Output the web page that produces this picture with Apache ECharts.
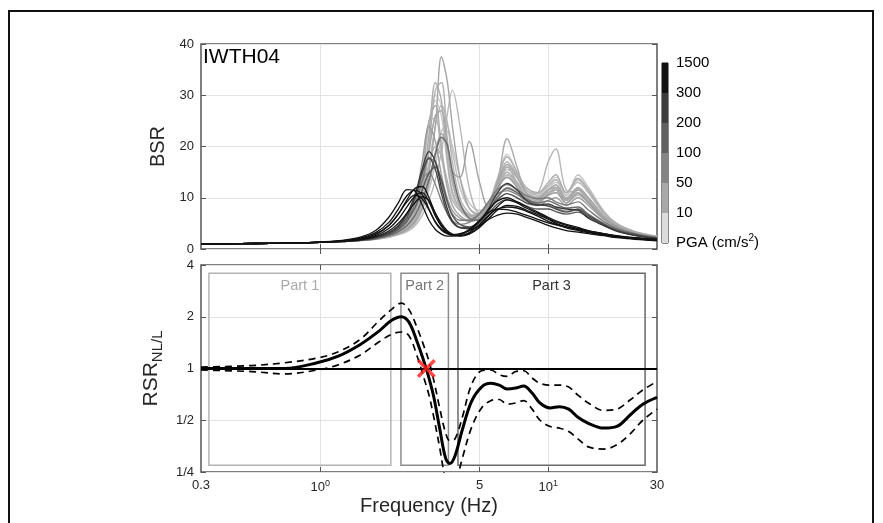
<!DOCTYPE html>
<html><head><meta charset="utf-8">
<script src="https://cdn.jsdelivr.net/npm/echarts@6/dist/echarts.min.js"></script>
<style>html,body{margin:0;padding:0;background:#fff}#c{width:883px;height:523px}</style>
</head><body><div id="c"></div>
<script>
// ---------- DATA ----------
// frequency grid (Hz) shared by all BSR curves (top panel)
const FREQ = [0.3,0.45,0.6,0.8,1.0,1.25,1.5,1.75,2.0,2.2,2.4,2.6,2.8,3.0,3.2,3.4,3.6,3.8,4.1,4.5,5.0,5.5,6.0,6.6,7.3,8.0,9.0,10.0,10.8,12.0,13.5,15.0,17.5,20,24,30];

// light grey BSR curves (PGA < 50)
const BSR_L1  = [1.0,1.05,1.1,1.2,1.3,1.45,1.7,2.0,2.5,3.0,3.8,5.5,9.0,15.0,24.0,37.5,33.0,24.0,14.0,8.0,6.8,9.0,13.0,16.5,14.0,11.0,10.0,11.5,12.0,9.5,11.5,10.0,6.5,4.5,3.2,2.3];
const BSR_L2  = [1.0,1.05,1.1,1.2,1.3,1.45,1.7,2.0,2.6,3.2,4.2,6.5,11.0,20.0,31.0,32.5,22.0,13.0,8.5,6.5,6.2,8.5,12.5,15.0,13.0,10.5,9.8,11.0,11.5,9.8,11.8,9.5,6.0,4.2,3.0,2.2];
const BSR_L3  = [1.0,1.05,1.1,1.2,1.3,1.45,1.65,1.9,2.3,2.8,3.4,4.5,6.5,9.5,13.5,19.0,26.0,31.0,24.0,12.0,7.0,8.0,11.5,14.5,13.0,10.2,9.5,10.5,11.0,9.0,10.5,9.0,6.0,4.3,3.0,2.2];
const BSR_L4  = [1.0,1.05,1.1,1.2,1.3,1.45,1.7,2.0,2.5,3.0,3.8,5.2,8.0,13.0,19.0,22.5,20.0,15.0,14.0,21.0,13.0,8.0,10.0,12.0,11.0,9.0,8.5,9.5,10.0,8.5,10.0,8.5,5.8,4.2,3.0,2.2];
const BSR_L5  = [1.0,1.05,1.1,1.2,1.3,1.45,1.7,2.0,2.6,3.3,4.5,7.0,12.0,19.0,26.0,27.0,21.0,14.0,9.0,6.5,6.0,8.0,13.0,21.5,16.0,11.0,10.0,11.5,12.5,10.0,12.0,10.0,6.5,4.5,3.2,2.3];
const BSR_L6  = [1.0,1.05,1.1,1.2,1.3,1.45,1.7,2.0,2.5,3.1,4.0,6.0,10.0,16.5,24.0,28.0,25.0,17.0,10.0,7.0,6.0,7.5,11.0,15.0,13.0,10.5,11.0,17.0,19.5,11.5,11.0,9.5,6.2,4.3,3.0,2.2];
const BSR_L7  = [1.0,1.05,1.1,1.2,1.3,1.45,1.7,2.0,2.6,3.4,4.8,8.0,15.0,25.0,25.5,18.0,12.0,8.5,6.5,5.5,5.8,8.0,12.0,14.5,12.5,10.0,9.0,10.5,11.5,9.0,11.0,9.0,6.0,4.3,3.0,2.2];
const BSR_L8  = [1.0,1.05,1.1,1.2,1.3,1.45,1.7,2.0,2.5,3.1,4.2,6.8,12.5,22.0,29.0,26.0,17.0,10.5,7.5,6.0,6.2,8.5,13.0,17.0,14.0,11.0,10.2,12.0,13.5,10.5,13.5,11.0,7.0,4.8,3.3,2.4];
const BSR_L9  = [1.0,1.05,1.1,1.2,1.3,1.45,1.65,1.9,2.4,2.9,3.6,5.0,8.0,12.5,18.0,23.0,24.0,19.0,12.0,8.0,6.5,7.5,11.0,15.5,14.0,11.5,10.5,11.5,12.5,10.5,14.5,12.0,7.5,5.0,3.4,2.5];
const BSR_L10 = [1.0,1.05,1.1,1.2,1.3,1.45,1.7,2.0,2.6,3.3,4.6,7.5,14.0,24.0,30.0,28.0,19.0,11.5,8.0,6.2,6.4,9.0,14.0,18.5,15.0,11.5,10.5,12.5,14.0,11.0,13.0,11.0,7.0,4.8,3.3,2.4];
const BSR_L11 = [1.0,1.05,1.1,1.2,1.3,1.45,1.7,2.0,2.6,3.2,4.4,7.2,14.0,25.0,28.0,20.0,12.5,8.5,6.5,5.6,6.0,8.5,12.5,16.0,13.0,10.2,9.5,10.8,12.0,9.5,11.5,9.5,6.2,4.4,3.1,2.3];
const BSR_L12 = [1.0,1.05,1.1,1.2,1.3,1.45,1.7,2.1,2.8,3.6,5.2,9.0,17.0,24.0,21.0,14.5,10.0,7.5,6.0,5.4,6.0,8.5,12.0,14.0,12.0,9.8,9.2,10.5,11.0,9.0,10.8,9.0,6.0,4.3,3.0,2.2];
const BSR_L13 = [1.0,1.05,1.1,1.2,1.3,1.45,1.7,2.0,2.5,3.1,4.2,6.5,11.5,19.5,26.0,27.0,20.0,13.0,8.5,6.8,6.6,9.0,13.5,17.0,14.5,11.5,10.8,12.5,13.5,11.0,13.0,11.0,7.0,4.7,3.3,2.4];
const BSR_L14 = [1.0,1.05,1.1,1.2,1.3,1.45,1.7,2.0,2.6,3.3,4.5,7.0,11.0,16.5,20.0,18.0,13.5,9.5,7.5,6.5,6.8,8.8,12.0,14.0,12.5,10.5,10.0,11.0,11.5,9.5,11.0,9.5,6.3,4.4,3.1,2.3];
const BSR_L15 = [1.0,1.05,1.1,1.2,1.3,1.45,1.7,2.0,2.5,3.0,4.0,6.2,11.5,22.0,32.5,29.0,18.0,11.0,8.0,6.5,6.5,9.0,13.5,18.0,15.0,12.0,11.0,13.0,14.5,11.0,13.8,11.5,7.2,4.9,3.4,2.5];
const BSR_L16 = [1.0,1.05,1.1,1.2,1.3,1.45,1.65,1.9,2.3,2.8,3.5,4.8,7.5,11.5,16.5,21.0,23.0,20.0,14.0,9.0,7.5,8.5,12.0,16.0,14.5,12.0,11.0,12.0,13.0,11.0,13.5,11.5,7.2,4.9,3.4,2.5];
// medium grey BSR curves (PGA 50-200)
const BSR_M1 = [1.0,1.05,1.1,1.2,1.3,1.45,1.7,2.0,2.6,3.4,4.6,6.5,9.5,13.5,18.5,21.8,20.5,15.0,9.0,6.0,5.6,7.5,10.2,11.8,11.0,9.8,9.0,9.4,8.8,8.0,8.2,6.8,5.0,3.8,2.9,2.2];
const BSR_M2 = [1.0,1.05,1.1,1.2,1.3,1.5,1.8,2.3,3.2,4.6,6.8,10.0,13.5,14.8,12.6,9.4,7.0,5.5,4.8,5.2,6.8,9.0,10.8,11.4,10.6,9.6,8.8,8.6,8.0,7.4,7.6,6.2,4.7,3.6,2.8,2.1];
const BSR_M3 = [1.0,1.05,1.1,1.2,1.3,1.45,1.7,2.1,2.9,4.0,5.8,8.8,13.2,17.6,17.0,13.0,9.2,6.8,5.6,5.6,7.0,9.4,11.6,12.6,11.6,10.4,9.8,10.0,9.2,8.6,9.2,7.6,5.4,4.0,3.0,2.2];
// dark grey BSR curves (PGA 200-300)
const BSR_D1 = [1.0,1.05,1.1,1.2,1.3,1.5,1.8,2.3,3.2,4.5,6.8,10.5,15.5,19.0,17.0,12.0,8.0,5.5,4.2,4.0,5.2,8.0,11.0,12.8,11.5,9.5,8.6,8.8,8.2,7.8,7.6,6.0,4.6,3.5,2.6,2.0];
const BSR_D2 = [1.0,1.05,1.1,1.2,1.3,1.5,1.75,2.2,3.0,4.2,6.2,9.8,14.8,17.8,15.5,10.8,7.2,5.2,4.2,4.2,5.5,7.6,9.6,10.8,10.0,9.0,8.6,8.4,7.8,7.2,7.8,6.5,4.8,3.6,2.8,2.1];
const BSR_D3 = [1.0,1.05,1.1,1.2,1.3,1.45,1.7,2.1,2.8,3.8,5.4,8.0,11.5,14.8,16.0,13.5,9.5,6.5,4.8,4.3,5.2,7.0,8.8,9.6,9.2,8.4,7.8,7.8,7.3,6.8,7.2,6.2,4.6,3.5,2.7,2.0];
// black BSR curves (PGA > 300)
const BSR_B1 = [1.0,1.05,1.1,1.2,1.4,1.7,2.3,3.6,6.2,9.0,11.6,11.3,8.6,5.6,3.8,2.9,2.5,2.5,2.8,3.8,5.6,7.2,7.8,7.7,7.2,6.6,5.8,5.1,4.7,4.3,3.9,3.5,3.0,2.6,2.2,1.9];
const BSR_B2 = [1.0,1.05,1.1,1.2,1.35,1.6,2.0,2.9,4.6,6.8,9.6,11.8,12.2,10.0,6.8,4.6,3.4,2.8,2.6,3.0,4.4,6.5,8.3,9.6,9.0,8.0,7.0,6.0,5.3,4.6,4.0,3.5,2.9,2.5,2.1,1.8];
const BSR_B3 = [1.0,1.05,1.1,1.2,1.35,1.55,1.9,2.6,4.0,5.8,8.2,10.3,11.0,9.2,6.4,4.4,3.2,2.7,2.6,3.2,4.8,6.6,7.8,8.2,8.0,7.4,6.4,5.4,4.8,4.1,3.6,3.2,2.7,2.3,2.0,1.7];
const BSR_B4 = [1.0,1.05,1.1,1.2,1.3,1.5,1.8,2.4,3.5,5.0,7.0,9.0,10.2,9.4,7.0,5.0,3.6,2.9,2.5,2.9,4.2,6.0,7.6,8.5,8.3,7.6,6.7,5.8,5.0,4.3,3.8,3.3,2.8,2.4,2.0,1.7];
const BSR_B5 = [1.0,1.05,1.1,1.2,1.35,1.6,2.1,3.2,5.2,7.8,10.4,11.5,10.6,7.8,5.2,3.7,3.0,2.7,2.8,3.6,5.5,7.8,9.4,10.0,9.2,8.3,7.2,6.2,5.5,4.8,4.2,3.6,3.0,2.5,2.1,1.8];
const BSR_B6 = [1.0,1.05,1.1,1.2,1.3,1.55,2.0,2.9,4.6,6.8,9.2,10.5,9.8,7.6,5.3,3.9,3.1,2.8,3.0,3.6,4.6,5.8,6.6,7.0,6.8,6.2,5.4,4.6,4.1,3.6,3.3,3.0,2.6,2.2,1.9,1.6];

// bottom panel: RSR NL/L (median and +/- bounds)
const RSR_FREQ = [0.3,0.5,0.7,0.97,1.2,1.5,1.8,2.05,2.27,2.45,2.65,2.85,3.0,3.15,3.35,3.55,3.7,3.9,4.2,4.6,5.1,5.6,6.1,6.6,7.2,7.8,8.5,9.2,10.2,11.2,12.3,13.5,15,17.5,20,23,26,30];
const RSR_MID  = [1.0,1.0,1.0,1.08,1.18,1.38,1.64,1.9,2.0,1.86,1.45,1.1,0.88,0.68,0.44,0.3,0.28,0.31,0.44,0.64,0.78,0.82,0.8,0.76,0.77,0.79,0.72,0.63,0.59,0.6,0.58,0.52,0.48,0.45,0.46,0.54,0.62,0.68];
const RSR_HIGH = [1.02,1.04,1.08,1.15,1.25,1.48,1.88,2.2,2.4,2.2,1.75,1.35,1.1,0.85,0.58,0.42,0.38,0.39,0.52,0.8,0.97,0.98,0.92,0.9,0.96,0.97,0.88,0.82,0.8,0.8,0.78,0.7,0.63,0.57,0.58,0.66,0.75,0.84];
const RSR_LOW  = [0.98,0.96,0.93,0.98,1.05,1.2,1.42,1.58,1.63,1.55,1.2,0.88,0.7,0.52,0.34,0.22,0.19,0.21,0.3,0.45,0.59,0.65,0.66,0.62,0.63,0.65,0.58,0.5,0.46,0.45,0.43,0.39,0.35,0.34,0.36,0.42,0.5,0.58];
const CROSS_POINT = [2.92, 1];

// part boxes
const PART_NAMES = ['Part 1','Part 2','Part 3'];
const PART_FROM  = [0.325, 2.26, 4.02];
const PART_TO    = [2.04, 3.65, 26.6];
const PART_LOW = 0.274, PART_HIGH = 3.58;

// ticks
const X_TICKS = [0.3, 1, 5, 10, 30];
const X_TICK_LABELS = ['0.3', '10{sup|0}', '5', '10{sup|1}', '30'];
const Y2_TICKS = [0.25, 0.5, 1, 2, 4];
const Y2_TICK_LABELS = ['1/4', '1/2', '1', '2', '4'];
const CB_LABELS = ['PGA (cm/s{sup|2})', '10', '50', '100', '200', '300', '1500'];
const CB_BINS = [1, 1, 1, 1, 1, 1];

// ---------- STYLE ----------
const FONT = 'Liberation Sans, Arial, Helvetica, sans-serif';
const CB_COLORS = ['#dcdcdc', '#a8a8a8', '#858585', '#606060', '#3c3c3c', '#111111'];
const CURVES = [
  [BSR_L10, '#d0d0d0'], [BSR_L8, '#c8c8c8'], [BSR_L16, '#c4c4c4'], [BSR_L9, '#c0c0c0'], [BSR_L7, '#bcbcbc'],
  [BSR_L13, '#b8b8b8'], [BSR_L6, '#b6b6b6'], [BSR_L3, '#b8b8b8'], [BSR_L14, '#b2b2b2'], [BSR_L2, '#b0b0b0'],
  [BSR_L15, '#aeaeae'], [BSR_L11, '#acacac'], [BSR_L5, '#aaaaaa'], [BSR_L1, '#a6a6a6'], [BSR_L4, '#a0a0a0'],
  [BSR_L12, '#9c9c9c'],
  [BSR_M2, '#858585'], [BSR_M3, '#7a7a7a'], [BSR_M1, '#6c6c6c'],
  [BSR_D3, '#5a5a5a'], [BSR_D2, '#4a4a4a'], [BSR_D1, '#3a3a3a'],
  [BSR_B6, '#111'], [BSR_B4, '#111'], [BSR_B3, '#111'], [BSR_B1, '#111'], [BSR_B5, '#111'], [BSR_B2, '#111']
];
const PART_COLORS = ['#b4b4b4', '#8c8c8c', '#6a6a6a'];
const PART_TEXT = ['#aaaaaa', '#777777', '#333333'];

const zip = (xs, ys) => xs.map((x, i) => [x, ys[i]]);
const nearestLabel = (v, ticks, labels) => {
  let best = 0;
  ticks.forEach((t, i) => { if (Math.abs(Math.log(t) - Math.log(v)) < Math.abs(Math.log(ticks[best]) - Math.log(v))) best = i; });
  return labels[best];
};

const axisCol = '#555';
const tickStyle = { inside: true, length: 5, lineStyle: { color: axisCol, width: 1 } };
const gridLine = { show: true, lineStyle: { color: '#e3e3e3', width: 1 } };
const labelStyle = { color: '#262626', fontSize: 13, fontFamily: FONT };

const chart = echarts.init(document.getElementById('c'), null, { renderer: 'canvas' });

const series = [];
CURVES.forEach(([vals, col], i) => {
  const dark = col === '#111';
  series.push({
    type: 'line', xAxisIndex: 0, yAxisIndex: 0, data: zip(FREQ, vals),
    showSymbol: false, smooth: 0.35, silent: true,
    lineStyle: { color: col, width: dark ? 1.3 : 1.4 }, z: 2 + i * 0.01
  });
});

const markAreaData = PART_NAMES.map((n, i) => [
  { name: n, xAxis: PART_FROM[i], yAxis: PART_LOW,
    itemStyle: { color: 'rgba(0,0,0,0)', borderColor: PART_COLORS[i], borderWidth: 1.5 },
    label: { color: PART_TEXT[i] } },
  { xAxis: PART_TO[i], yAxis: PART_HIGH }
]);

series.push({
  type: 'line', xAxisIndex: 1, yAxisIndex: 1, data: zip(RSR_FREQ, RSR_MID),
  showSymbol: false, smooth: 0.35, silent: true,
  lineStyle: { color: '#000', width: 3 }, z: 5,
  markLine: { silent: true, symbol: 'none', label: { show: false },
    lineStyle: { color: '#000', width: 2, type: 'solid' }, data: [{ yAxis: 1 }] },
  markArea: { silent: true, label: { show: true, position: 'insideTop', distance: 6, fontSize: 14.5, fontFamily: FONT },
    data: markAreaData }
});
[RSR_HIGH, RSR_LOW].forEach(vals => series.push({
  type: 'line', xAxisIndex: 1, yAxisIndex: 1, data: zip(RSR_FREQ, vals),
  showSymbol: false, smooth: 0.35, silent: true,
  lineStyle: { color: '#000', width: 1.7, type: [7, 5] }, z: 4
}));
series.push({
  type: 'scatter', xAxisIndex: 1, yAxisIndex: 1, data: [CROSS_POINT], silent: true,
  symbol: 'path://M0,1.3L1.3,0L5,3.7L8.7,0L10,1.3L6.3,5L10,8.7L8.7,10L5,6.3L1.3,10L0,8.7L3.7,5Z',
  symbolSize: 19, itemStyle: { color: '#ff1a1a' }, z: 10
});
CB_BINS.forEach((v, i) => series.push({
  type: 'bar', xAxisIndex: 4, yAxisIndex: 4, stack: 'cb', data: [v], barWidth: '100%',
  silent: true, itemStyle: { color: CB_COLORS[i] }
}));

const logX = (grid, extra) => Object.assign({
  type: 'log', logBase: 10, gridIndex: grid, min: 0.3, max: 30,
  axisLine: { show: false }, axisTick: Object.assign({ customValues: [1, 5, 10] }, tickStyle),
  axisLabel: { show: false }, splitLine: Object.assign({}, gridLine), minorTick: { show: false }
}, extra || {});

const option = {
  animation: false,
  backgroundColor: '#fff',
  textStyle: { fontFamily: FONT },
  title: { text: 'IWTH04', left: 203, top: 47, padding: 0,
    textStyle: { fontSize: 21, fontWeight: 'normal', color: '#000', fontFamily: FONT } },
  grid: [
    { left: 201, width: 456, top: 44, height: 205, show: true, borderColor: axisCol, borderWidth: 1.5, backgroundColor: 'rgba(0,0,0,0)' },
    { left: 201, width: 456, top: 265, height: 207, show: true, borderColor: axisCol, borderWidth: 1.5, backgroundColor: 'rgba(0,0,0,0)' },
    { left: 662, width: 6, top: 63, height: 180, show: true, borderColor: '#111', borderWidth: 1, backgroundColor: 'rgba(0,0,0,0)' }
  ],
  xAxis: [
    logX(0),
    logX(1, {
      axisLabel: { show: true, customValues: X_TICKS, margin: 7, ...labelStyle,
        formatter: v => nearestLabel(v, X_TICKS, X_TICK_LABELS),
        rich: { sup: { fontSize: 9, padding: [0, 0, 8, 0], color: '#262626', fontFamily: FONT } } },
      name: 'Frequency (Hz)', nameLocation: 'middle', nameGap: 24,
      nameTextStyle: { fontSize: 20, color: '#262626', fontFamily: FONT }
    }),
    logX(0, { position: 'top', splitLine: { show: false } }),
    logX(1, { position: 'top', splitLine: { show: false } }),
    { type: 'category', gridIndex: 2, data: ['PGA'], show: false }
  ],
  yAxis: [
    { type: 'value', gridIndex: 0, min: 0, max: 40, interval: 10,
      axisLine: { show: false }, axisTick: tickStyle, splitLine: gridLine,
      axisLabel: { margin: 7, ...labelStyle },
      name: 'BSR', nameLocation: 'middle', nameGap: 22,
      nameTextStyle: { fontSize: 20, color: '#262626', fontFamily: FONT } },
    { type: 'log', logBase: 2, gridIndex: 1, min: 0.25, max: 4,
      axisLine: { show: false }, axisTick: Object.assign({ customValues: Y2_TICKS }, tickStyle),
      splitLine: gridLine, minorTick: { show: false },
      axisLabel: { margin: 7, customValues: Y2_TICKS, ...labelStyle, formatter: v => nearestLabel(v, Y2_TICKS, Y2_TICK_LABELS) },
      name: 'RSR{sub|NL/L}', nameLocation: 'middle', nameGap: 27,
      nameTextStyle: { fontSize: 21, color: '#262626', fontFamily: FONT,
        rich: { sub: { fontSize: 15, padding: [12, 0, 0, 0], color: '#262626', fontFamily: FONT } } } },
    { type: 'value', gridIndex: 0, min: 0, max: 40, interval: 10, position: 'right',
      axisLine: { show: false }, axisTick: tickStyle, splitLine: { show: false }, axisLabel: { show: false } },
    { type: 'log', logBase: 2, gridIndex: 1, min: 0.25, max: 4, position: 'right',
      axisLine: { show: false }, axisTick: Object.assign({ customValues: Y2_TICKS }, tickStyle),
      splitLine: { show: false }, axisLabel: { show: false } },
    { type: 'value', gridIndex: 2, min: 0, max: 6, interval: 1, position: 'right',
      axisLine: { show: false }, axisTick: { show: false }, splitLine: { show: false },
      axisLabel: { margin: 8, color: '#000', fontSize: 15, fontFamily: FONT,
        formatter: v => CB_LABELS[Math.round(v)],
        rich: { sup: { fontSize: 10, padding: [0, 0, 9, 0], color: '#000', fontFamily: FONT } } } }
  ],
  graphic: [
    { type: 'polyline', silent: true, shape: { points: [[9, 523], [9, 11], [873, 11], [873, 523]] },
      style: { stroke: '#111', lineWidth: 2, fill: null } }
  ],
  series
};
chart.setOption(option);
</script>
</body></html>
